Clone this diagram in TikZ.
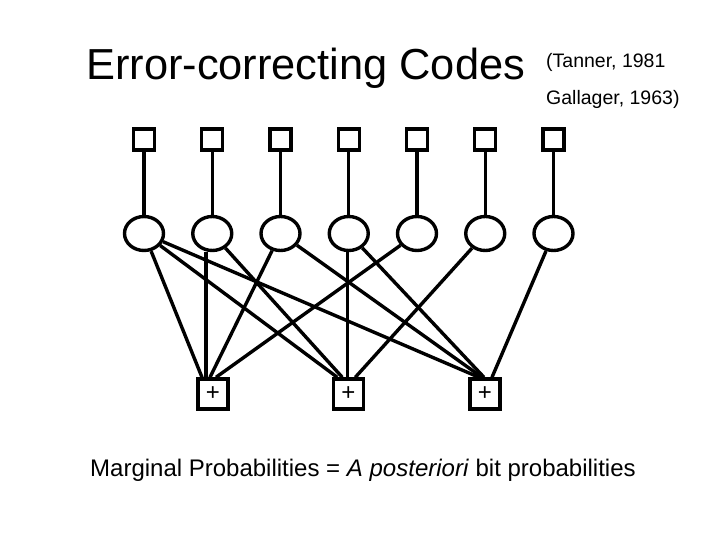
\documentclass[tikz,border=0pt]{standalone}
\usepackage{fontspec}
\setmainfont{Liberation Sans}
\usetikzlibrary{shapes.geometric}
\begin{document}
\begin{tikzpicture}[x=1pt,y=-1pt,
  edge/.style={line width=3.4pt},
  bitbox/.style={draw,line width=3.4pt,minimum size=21pt,inner sep=0pt},
  varnode/.style={draw,ellipse,line width=3.4pt,minimum width=39pt,minimum height=34pt,inner sep=0pt},
  chkbox/.style={draw,line width=3.4pt,minimum size=30pt,inner sep=0pt,font=\fontsize{24}{24}\selectfont}]
\useasboundingbox (0,0) rectangle (720,540);
\node[anchor=base west,inner sep=0pt,font=\fontsize{43.4}{44}\selectfont] (title) at (86,79.3) {Error-correcting Codes};
\node[anchor=base west,inner sep=0pt,font=\fontsize{19.5}{20}\selectfont] (cite1) at (546,67.7) {(Tanner, 1981};
\node[anchor=base west,inner sep=0pt,font=\fontsize{19.5}{20}\selectfont] (cite2) at (546,104.3) {Gallager, 1963)};
\foreach \i in {1,...,7} {
  \pgfmathsetmacro{\xx}{144+68.25*(\i-1)}
  \node[bitbox] (b\i) at (\xx,139.5) {};
  \node[varnode] (v\i) at (\xx,233.5) {};
  \draw[edge] (b\i) -- (v\i);
}
\node[chkbox] (k1) at (213,394) {+};
\node[chkbox] (k2) at (348.3,394) {+};
\node[chkbox] (k3) at (485,394) {+};
\coordinate (k1a) at ([xshift=-7pt]k1.north);
\coordinate (k2a) at ([xshift=-1pt]k2.north);
\draw[edge] (v1) -- ([xshift=-11pt]k1.north);
\draw[edge] (v2.south -| k1a) -- (k1a);
\draw[edge] (v3) -- ([xshift=-3pt]k1.north);
\draw[edge] (v5) -- ([xshift=3pt]k1.north);
\draw[edge] (v1) -- ([xshift=-11pt]k2.north);
\draw[edge] (v2) -- ([xshift=-6pt]k2.north);
\draw[edge] (v4.south -| k2a) -- (k2a);
\draw[edge] (v6) -- ([xshift=7pt]k2.north);
\draw[edge] (v1) -- ([xshift=-6pt]k3.north);
\draw[edge] (v3) -- ([xshift=-3pt]k3.north);
\draw[edge] (v4) -- ([xshift=-1pt]k3.north);
\draw[edge] (v7) -- ([xshift=7pt]k3.north);
\node[anchor=base west,inner sep=0pt,font=\fontsize{24}{26}\selectfont] (caption) at (90,476.7) {Marginal Probabilities = \textit{A posteriori} bit probabilities};
\end{tikzpicture}
\end{document}
